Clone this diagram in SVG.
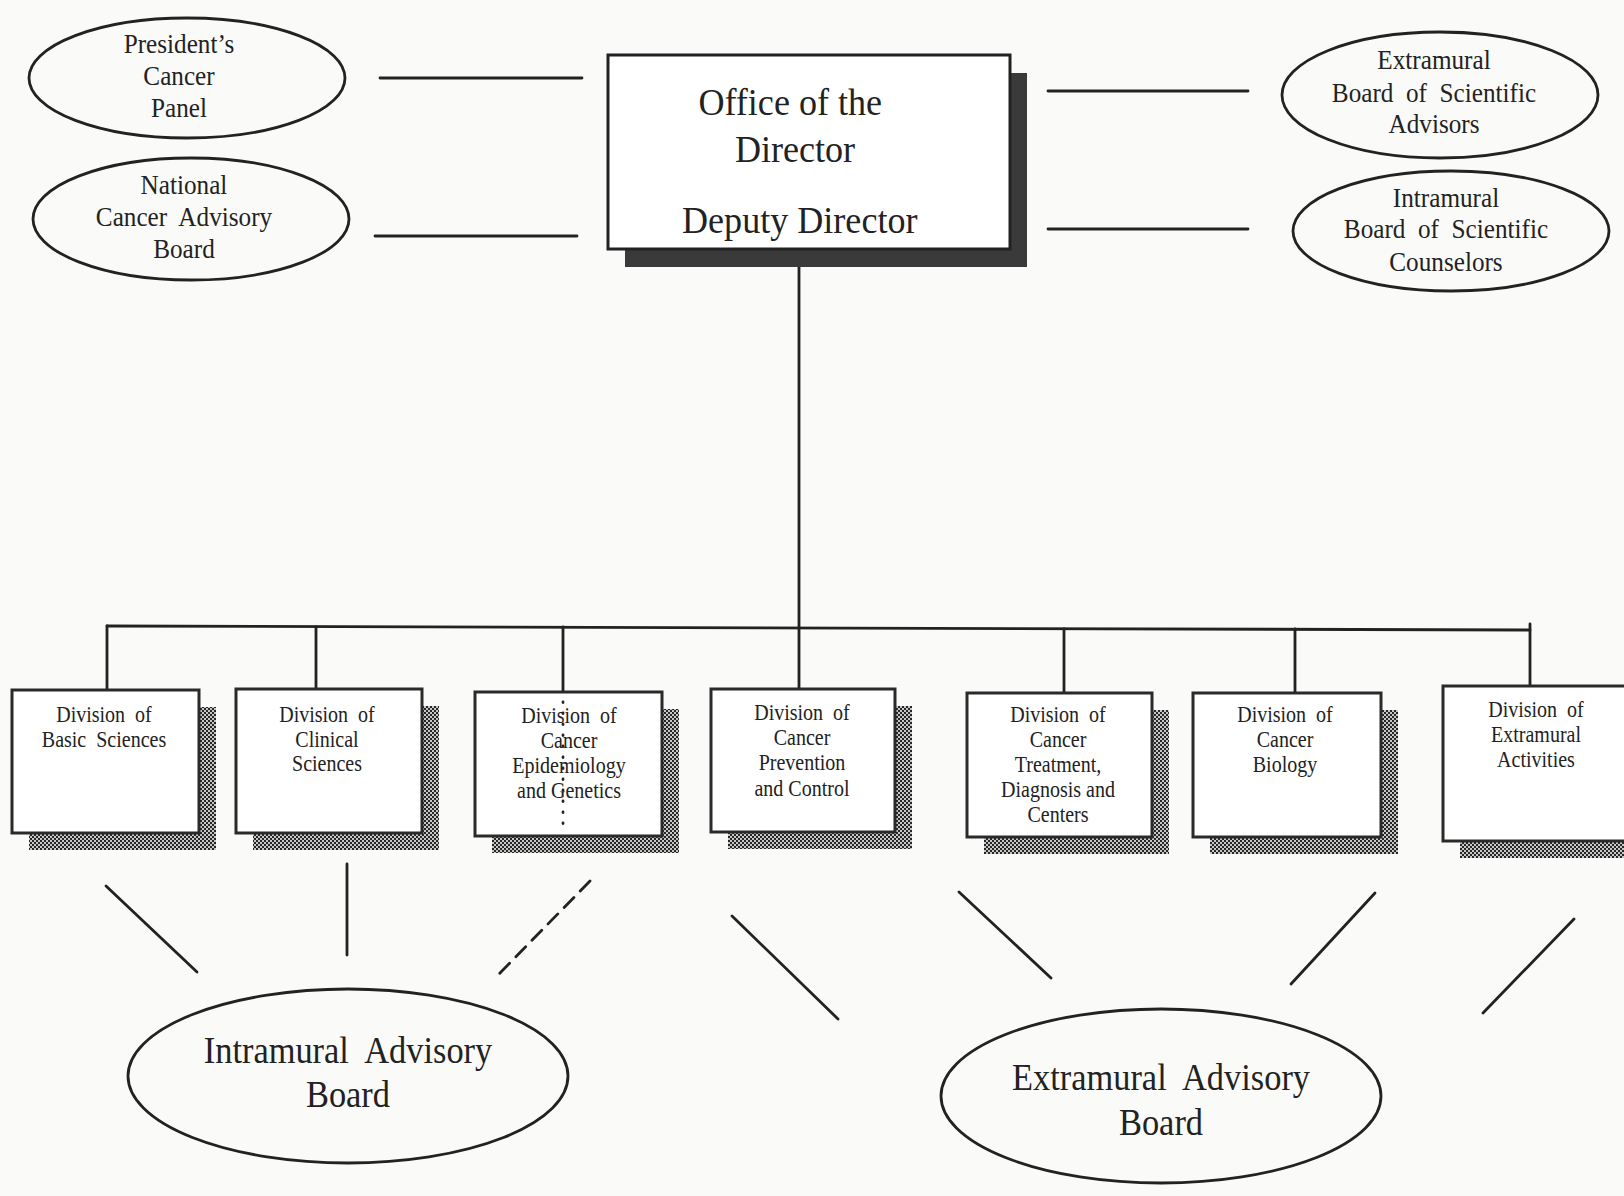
<svg xmlns="http://www.w3.org/2000/svg" width="1624" height="1196" viewBox="0 0 1624 1196">
<defs>
<pattern id="dither" width="4" height="4" patternUnits="userSpaceOnUse">
<rect width="4" height="4" fill="#c8c8c8"/>
<rect x="0" y="0" width="2" height="2" fill="#262626"/>
<rect x="2" y="2" width="2" height="2" fill="#262626"/>
</pattern>
<style>
.t{font-family:"Liberation Serif","Times New Roman",serif;fill:#222;text-anchor:middle}
.s27{font-size:28px}
.s38{font-size:38px}
.s23{font-size:23px}
.s37{font-size:37px}
.ell{fill:none;stroke:#222;stroke-width:2.8}
.box{fill:#fff;stroke:#2a2a2a;stroke-width:3}
.shd{fill:url(#dither)}
.ln{stroke:#222;stroke-width:2.8;fill:none;stroke-linecap:round}
</style>
</defs>
<rect width="1624" height="1196" fill="#fafaf8"/>

<g id="connectors">
<line class="ln" x1="380" y1="78" x2="582" y2="78"/>
<line class="ln" x1="375" y1="236" x2="577" y2="236"/>
<line class="ln" x1="1048" y1="91" x2="1248" y2="91"/>
<line class="ln" x1="1048" y1="229" x2="1248" y2="229"/>
<line class="ln" x1="799" y1="266" x2="799" y2="628"/>
<line class="ln" x1="107" y1="626" x2="1530" y2="630"/>
<line class="ln" x1="107" y1="626" x2="107" y2="690"/>
<line class="ln" x1="316" y1="627" x2="316" y2="689"/>
<line class="ln" x1="563" y1="627" x2="563" y2="692"/>
<line class="ln" x1="799" y1="628" x2="799" y2="689"/>
<line class="ln" x1="1064" y1="629" x2="1064" y2="693"/>
<line class="ln" x1="1295" y1="629" x2="1295" y2="693"/>
<line class="ln" x1="1530" y1="624" x2="1530" y2="686"/>
<line class="ln" x1="106" y1="886" x2="197" y2="972"/>
<line class="ln" x1="347" y1="864" x2="347" y2="955"/>
<line class="ln" x1="590" y1="881" x2="499" y2="974" stroke-dasharray="14 9"/>
<line class="ln" x1="732" y1="916" x2="838" y2="1019"/>
<line class="ln" x1="959" y1="892" x2="1051" y2="978"/>
<line class="ln" x1="1375" y1="893" x2="1291" y2="984"/>
<line class="ln" x1="1574" y1="919" x2="1483" y2="1013"/>
</g>

<g id="presidents-cancer-panel">
<ellipse class="ell" cx="187" cy="78" rx="158" ry="60"/>
<g transform="translate(179,0) scale(0.9,1) translate(-179,0)">
<text class="t s27" x="179" y="53">President’s</text>
<text class="t s27" x="179" y="85">Cancer</text>
<text class="t s27" x="179" y="117">Panel</text>
</g>
</g>

<g id="national-cancer-advisory-board">
<ellipse class="ell" cx="191" cy="219" rx="158" ry="61"/>
<g transform="translate(184,0) scale(0.9,1) translate(-184,0)">
<text class="t s27" x="184" y="194">National</text>
<text class="t s27" x="184" y="226" xml:space="preserve">Cancer  Advisory</text>
<text class="t s27" x="184" y="258">Board</text>
</g>
</g>

<g id="office-of-the-director">
<rect x="625" y="73" width="402" height="194" fill="#3a3a3a"/>
<rect x="608" y="55" width="402" height="194" fill="#fff" stroke="#222" stroke-width="3"/>
<g transform="translate(795,0) scale(0.95,1) translate(-795,0)">
<text class="t s38" x="790" y="115">Office of the</text>
<text class="t s38" x="795" y="162">Director</text>
<text class="t s38" x="800" y="233">Deputy Director</text>
</g>
</g>

<g id="extramural-board-of-scientific-advisors">
<ellipse class="ell" cx="1440" cy="95" rx="158" ry="63"/>
<g transform="translate(1434,0) scale(0.9,1) translate(-1434,0)">
<text class="t s27" x="1434" y="69">Extramural</text>
<text class="t s27" x="1434" y="102" xml:space="preserve">Board  of  Scientific</text>
<text class="t s27" x="1434" y="133">Advisors</text>
</g>
</g>

<g id="intramural-board-of-scientific-counselors">
<ellipse class="ell" cx="1451" cy="231" rx="158" ry="60"/>
<g transform="translate(1446,0) scale(0.9,1) translate(-1446,0)">
<text class="t s27" x="1446" y="207">Intramural</text>
<text class="t s27" x="1446" y="238" xml:space="preserve">Board  of  Scientific</text>
<text class="t s27" x="1446" y="271">Counselors</text>
</g>
</g>

<g id="division-basic-sciences">
<rect class="shd" x="29" y="707" width="187" height="143"/>
<rect class="box" x="12" y="690" width="187" height="143"/>
<g transform="translate(104,0) scale(0.87,1) translate(-104,0)">
<text class="t s23" x="104" y="722" xml:space="preserve">Division  of</text>
<text class="t s23" x="104" y="747" xml:space="preserve">Basic  Sciences</text>
</g>
</g>

<g id="division-clinical-sciences">
<rect class="shd" x="253" y="706" width="186" height="144"/>
<rect class="box" x="236" y="689" width="186" height="144"/>
<g transform="translate(327,0) scale(0.87,1) translate(-327,0)">
<text class="t s23" x="327" y="722" xml:space="preserve">Division  of</text>
<text class="t s23" x="327" y="747">Clinical</text>
<text class="t s23" x="327" y="771">Sciences</text>
</g>
</g>

<g id="division-cancer-epidemiology-genetics">
<rect class="shd" x="492" y="709" width="187" height="144"/>
<rect class="box" x="475" y="692" width="187" height="144"/>
<g transform="translate(569,0) scale(0.87,1) translate(-569,0)">
<text class="t s23" x="569" y="723" xml:space="preserve">Division  of</text>
<text class="t s23" x="569" y="748">Cancer</text>
<text class="t s23" x="569" y="773">Epidemiology</text>
<text class="t s23" x="569" y="798">and Genetics</text>
</g>
<line x1="563" y1="702" x2="563" y2="832" stroke="#222" stroke-width="2.8" stroke-linecap="round" stroke-dasharray="0.5 10.5"/>
</g>

<g id="division-cancer-prevention-control">
<rect class="shd" x="728" y="706" width="184" height="143"/>
<rect class="box" x="711" y="689" width="184" height="143"/>
<g transform="translate(802,0) scale(0.87,1) translate(-802,0)">
<text class="t s23" x="802" y="720" xml:space="preserve">Division  of</text>
<text class="t s23" x="802" y="745">Cancer</text>
<text class="t s23" x="802" y="770">Prevention</text>
<text class="t s23" x="802" y="796">and Control</text>
</g>
</g>

<g id="division-cancer-treatment">
<rect class="shd" x="984" y="710" width="185" height="144"/>
<rect class="box" x="967" y="693" width="185" height="144"/>
<g transform="translate(1058,0) scale(0.87,1) translate(-1058,0)">
<text class="t s23" x="1058" y="722" xml:space="preserve">Division  of</text>
<text class="t s23" x="1058" y="747">Cancer</text>
<text class="t s23" x="1058" y="772">Treatment,</text>
<text class="t s23" x="1058" y="797">Diagnosis and</text>
<text class="t s23" x="1058" y="822">Centers</text>
</g>
</g>

<g id="division-cancer-biology">
<rect class="shd" x="1210" y="710" width="188" height="144"/>
<rect class="box" x="1193" y="693" width="188" height="144"/>
<g transform="translate(1285,0) scale(0.87,1) translate(-1285,0)">
<text class="t s23" x="1285" y="722" xml:space="preserve">Division  of</text>
<text class="t s23" x="1285" y="747">Cancer</text>
<text class="t s23" x="1285" y="772">Biology</text>
</g>
</g>

<g id="division-extramural-activities">
<rect class="shd" x="1460" y="703" width="200" height="155"/>
<rect class="box" x="1443" y="686" width="200" height="155"/>
<g transform="translate(1536,0) scale(0.87,1) translate(-1536,0)">
<text class="t s23" x="1536" y="717" xml:space="preserve">Division  of</text>
<text class="t s23" x="1536" y="742">Extramural</text>
<text class="t s23" x="1536" y="767">Activities</text>
</g>
</g>

<g id="intramural-advisory-board">
<ellipse class="ell" cx="348" cy="1076" rx="220" ry="87"/>
<g transform="translate(348,0) scale(0.93,1) translate(-348,0)">
<text class="t s37" x="348" y="1063" xml:space="preserve">Intramural  Advisory</text>
<text class="t s37" x="348" y="1107">Board</text>
</g>
</g>

<g id="extramural-advisory-board">
<ellipse class="ell" cx="1161" cy="1096" rx="220" ry="87"/>
<g transform="translate(1161,0) scale(0.93,1) translate(-1161,0)">
<text class="t s37" x="1161" y="1090" xml:space="preserve">Extramural  Advisory</text>
<text class="t s37" x="1161" y="1135">Board</text>
</g>
</g>
</svg>
